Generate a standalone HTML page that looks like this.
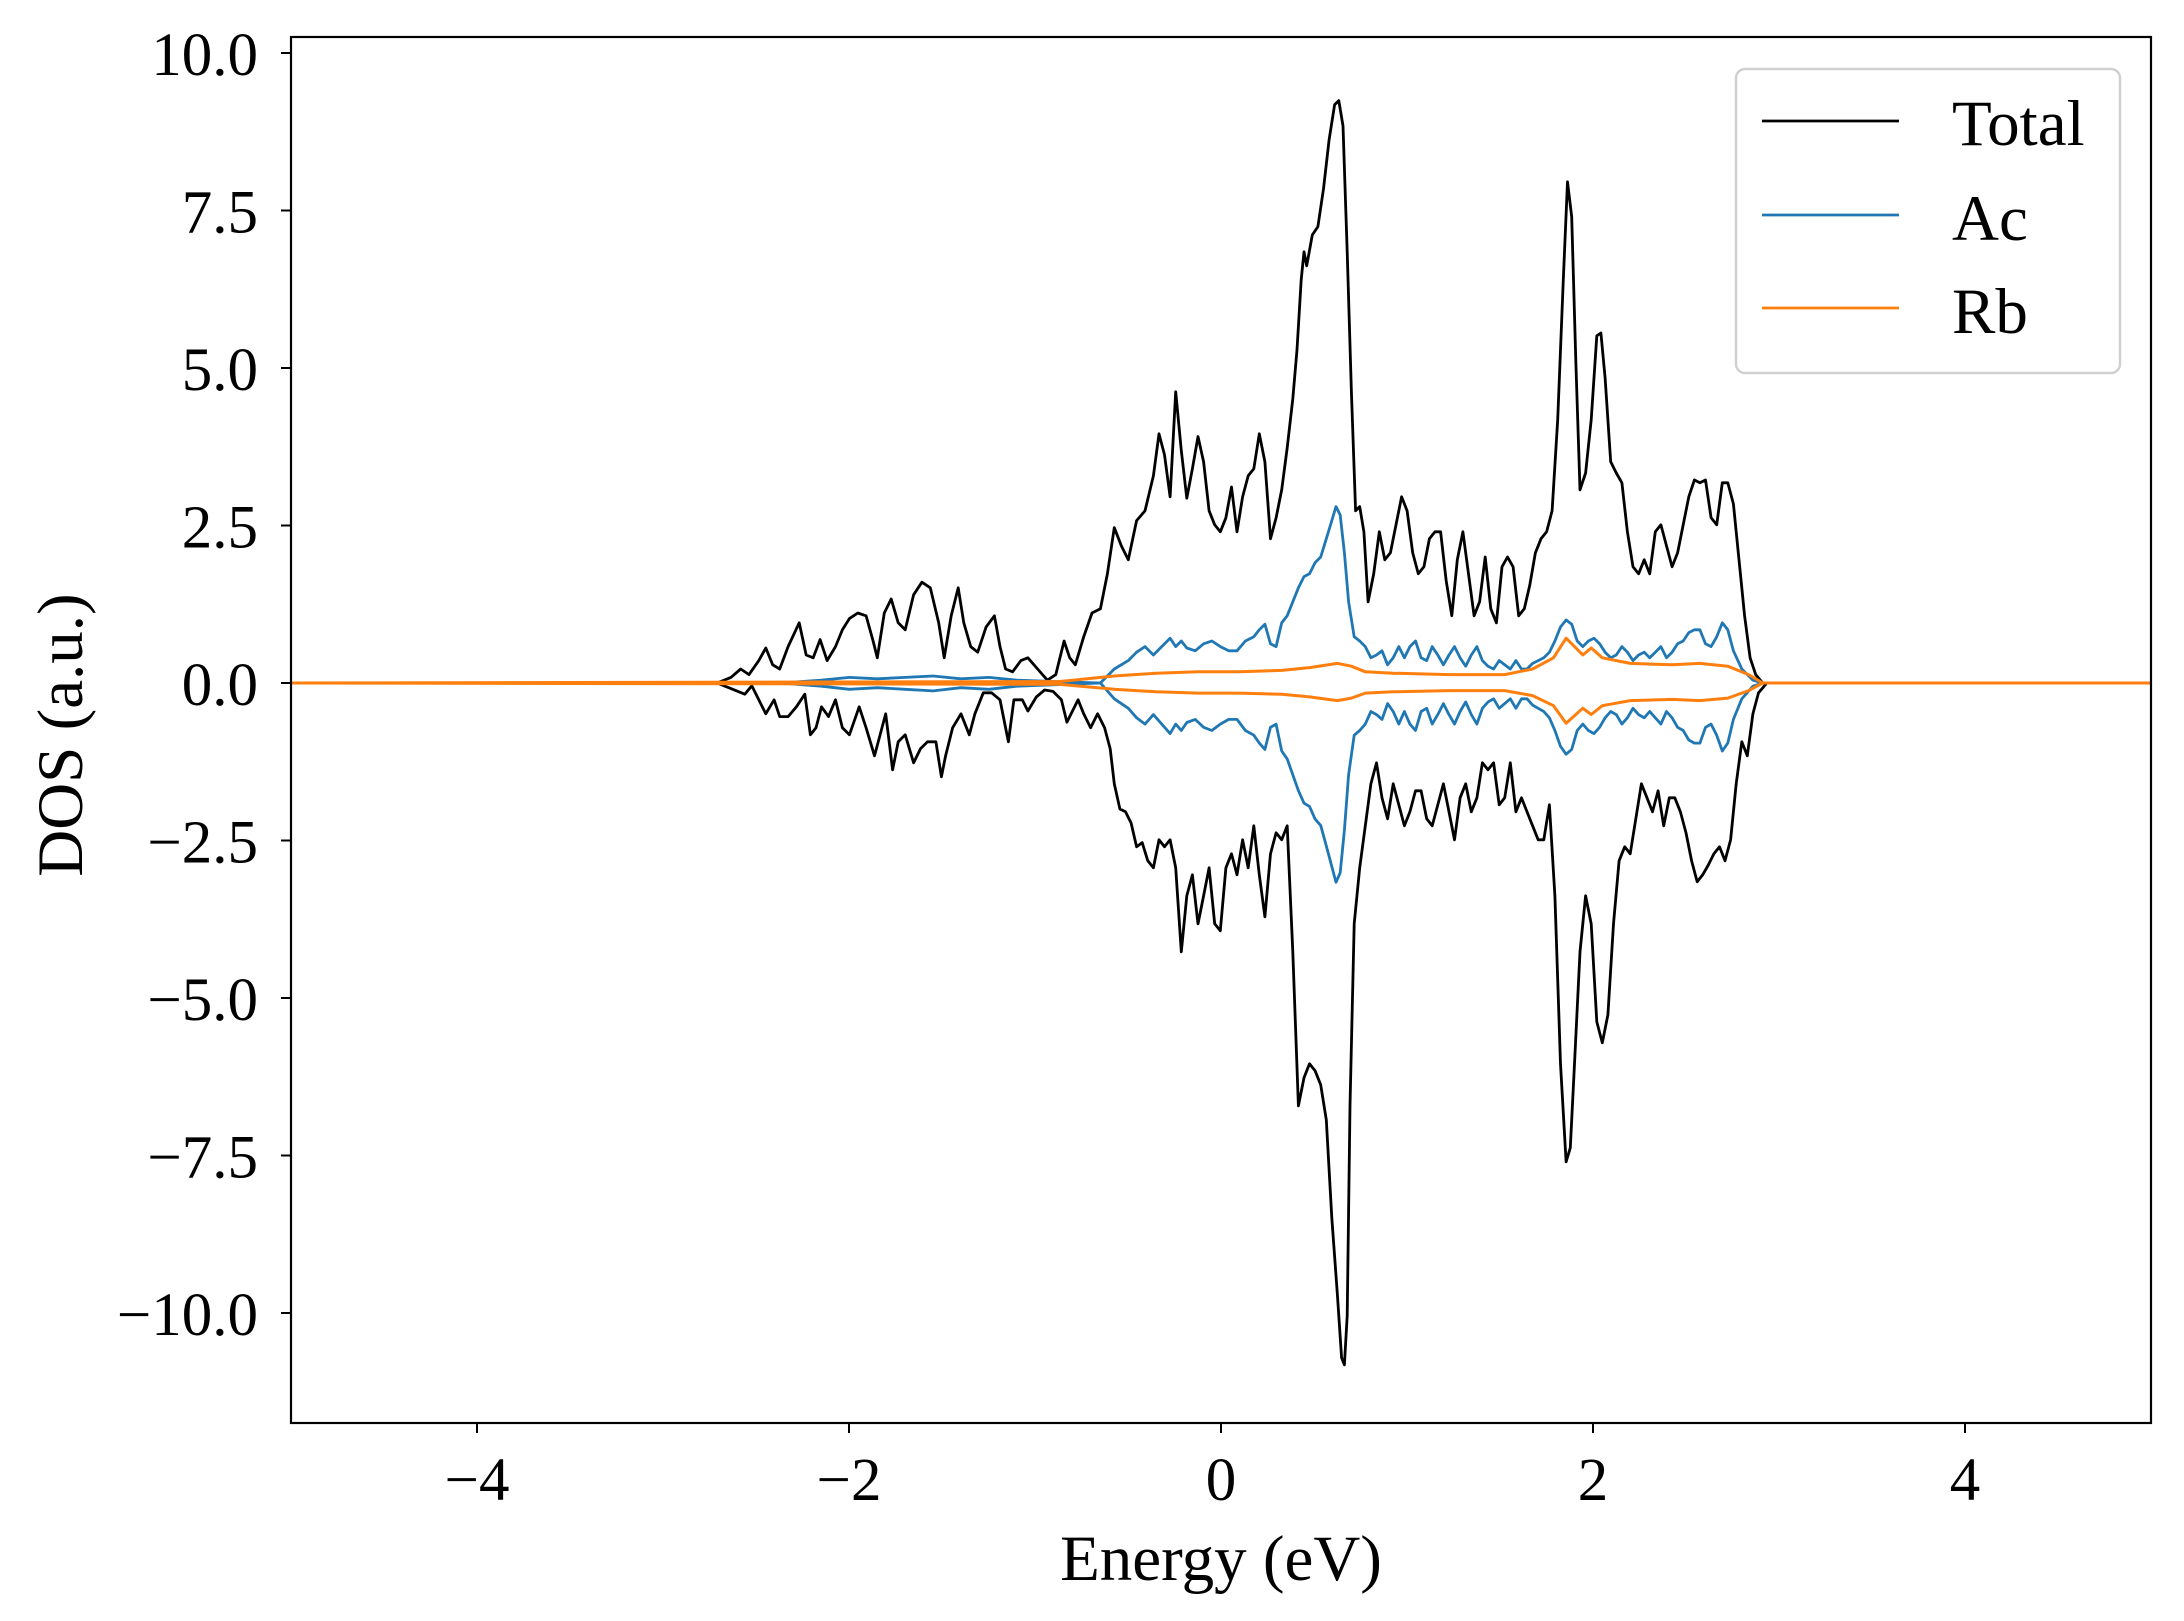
<!DOCTYPE html>
<html><head><meta charset="utf-8"><style>
html,body{margin:0;padding:0;background:#fff;}
svg{display:block;font-family:"Liberation Serif",serif;}
</style></head><body>
<svg id="s" width="2184" height="1621" viewBox="0 0 2184 1621" xmlns="http://www.w3.org/2000/svg">
<rect width="2184" height="1621" fill="#fff"/>
<g id="curves"></g>
<rect x="291" y="37" width="1860" height="1386" fill="none" stroke="#000" stroke-width="2.2"/>
<g id="ticks" stroke="#000" stroke-width="2"></g>
<g id="labels" font-size="61" fill="#000"></g>
<text x="1221" y="1580" font-size="65" text-anchor="middle">Energy (eV)</text>
<text transform="translate(82,735) rotate(-90)" font-size="65" text-anchor="middle">DOS (a.u.)</text>
<rect x="1736" y="69" width="384" height="304" rx="9" fill="#fff" fill-opacity="0.8" stroke="#d0d0d0" stroke-width="2.5"/>
<line x1="1762" y1="121" x2="1899" y2="121" stroke="#000" stroke-width="2.8"/>
<line x1="1762" y1="215" x2="1899" y2="215" stroke="#1f77b4" stroke-width="2.8"/>
<line x1="1762" y1="308" x2="1899" y2="308" stroke="#ff7f0e" stroke-width="2.8"/>
<text x="1952" y="145" font-size="65">Total</text>
<text x="1952" y="240" font-size="65">Ac</text>
<text x="1952" y="333" font-size="65">Rb</text>
</svg>
<script>
const NS="http://www.w3.org/2000/svg";
function tr(p){return [1221+(p[0]-876.5)*186/133.4, 683+(p[1]-488)*1.4];}
function P(pts){return pts.map(p=>{const q=tr(p);return q[0].toFixed(1)+","+q[1].toFixed(1);}).join(" ");}
function line(pts,col,w){const e=document.createElementNS(NS,"polyline");e.setAttribute("points",P(pts));e.setAttribute("fill","none");e.setAttribute("stroke",col);e.setAttribute("stroke-width",w);e.setAttribute("stroke-linejoin","round");document.getElementById("curves").appendChild(e);}
function wrap(a){return [[209,488]].concat(a).concat([[1544,488]]);}
function mirror(a,k){return a.map(p=>[p[0],488+(488-p[1])*k]);}
const totUp=[[515,488],[525,484],[532,478],[538,482],[545,472],[550,463],[555,475],[560,478],[566,462],[574,445],[579,468],[584,470],[589,457],[594,472],[600,462],[605,450],[610,442],[616,438],[622,440],[627,458],[630,470],[635,438],[640,428],[645,445],[650,450],[656,425],[662,416],[668,420],[674,445],[678,470],[683,440],[688,420],[692,445],[697,462],[702,466],[708,448],[714,440],[718,462],[722,478],[727,480],[733,472],[738,470],[745,478],[752,486],[758,482],[764,458],[768,470],[772,475],[778,455],[784,438],[790,435],[795,410],[800,377],[805,390],[810,400],[816,372],[822,365],[828,340],[832,310],[836,325],[840,355],[844,280],[848,322],[852,356],[856,335],[860,312],[864,330],[868,365],[872,375],[876,380],[880,370],[884,348],[888,380],[892,355],[896,340],[900,335],[904,310],[908,330],[912,385],[916,370],[920,350],[924,320],[928,285],[931,250],[934,200],[936,180],[938,190],[942,168],[946,162],[950,135],[954,100],[958,75],[961,72],[964,90],[967,180],[970,280],[973,365],[976,362],[979,380],[982,430],[986,410],[990,380],[994,400],[998,395],[1002,375],[1006,355],[1010,365],[1014,395],[1018,410],[1022,405],[1026,385],[1030,380],[1034,380],[1038,415],[1042,440],[1046,400],[1050,380],[1054,410],[1058,440],[1062,430],[1066,398],[1070,435],[1074,445],[1078,405],[1082,398],[1086,405],[1090,440],[1094,435],[1098,418],[1102,395],[1106,385],[1110,380],[1114,365],[1118,300],[1122,200],[1125,130],[1128,155],[1131,260],[1134,350],[1138,338],[1142,300],[1146,240],[1149,238],[1152,270],[1156,330],[1160,338],[1164,345],[1168,380],[1172,405],[1176,410],[1180,400],[1184,410],[1188,380],[1192,375],[1196,390],[1200,405],[1204,395],[1208,375],[1212,355],[1216,343],[1220,345],[1224,343],[1228,370],[1232,375],[1236,345],[1240,345],[1244,360],[1248,400],[1252,440],[1256,470],[1260,482],[1265,488]];
const totDn=[[515,488],[525,492],[535,496],[540,490],[545,500],[550,510],[556,500],[560,512],[566,512],[572,505],[578,496],[582,525],[586,520],[590,505],[595,512],[600,500],[605,520],[610,525],[617,505],[622,520],[628,540],[632,525],[636,510],[641,550],[645,530],[650,525],[656,545],[661,535],[666,530],[672,530],[676,555],[679,540],[684,520],[690,510],[696,525],[700,510],[706,495],[712,495],[718,500],[724,530],[728,500],[734,500],[738,508],[744,498],[750,493],[756,494],[762,500],[766,516],[770,508],[774,500],[778,510],[783,520],[788,510],[793,520],[797,535],[800,560],[804,578],[808,580],[812,588],[816,605],[820,602],[824,615],[828,620],[832,600],[836,605],[840,600],[844,620],[848,680],[852,640],[856,625],[860,660],[864,640],[868,620],[872,660],[876,665],[880,620],[884,610],[888,625],[892,600],[896,620],[900,590],[904,625],[908,655],[912,610],[916,595],[920,600],[924,590],[928,680],[932,790],[936,770],[940,760],[944,765],[948,775],[952,800],[956,870],[960,925],[963,970],[965,975],[967,940],[969,790],[972,660],[976,620],[980,590],[984,560],[988,545],[992,570],[996,585],[1000,560],[1004,575],[1008,590],[1012,580],[1016,565],[1020,565],[1024,585],[1028,590],[1032,575],[1036,560],[1040,580],[1044,600],[1048,570],[1052,560],[1056,580],[1060,570],[1064,545],[1068,550],[1072,545],[1076,575],[1080,570],[1084,545],[1088,580],[1092,570],[1096,580],[1100,590],[1104,600],[1108,600],[1112,575],[1116,640],[1120,760],[1124,830],[1127,820],[1130,760],[1134,680],[1138,640],[1142,660],[1146,730],[1150,745],[1154,725],[1158,660],[1162,615],[1166,605],[1170,610],[1174,585],[1178,560],[1182,570],[1186,580],[1190,565],[1194,590],[1198,570],[1202,570],[1206,580],[1210,595],[1214,615],[1218,630],[1222,625],[1226,618],[1230,610],[1234,605],[1238,615],[1242,600],[1246,560],[1250,530],[1254,540],[1258,510],[1262,495],[1268,488]];
const acUp=[[560,488],[590,486],[610,484],[630,485],[650,484],[670,483],[690,485],[710,484],[730,486],[760,487],[790,488],[800,478],[810,472],[816,466],[822,462],[828,468],[834,462],[840,456],[844,462],[848,458],[852,463],[858,465],[864,460],[870,458],[876,462],[882,465],[888,465],[894,458],[900,455],[904,450],[908,446],[912,460],[916,462],[920,445],[924,440],[928,430],[932,420],[936,412],[940,410],[944,402],[948,398],[952,385],[956,372],[959,362],[962,368],[965,395],[968,430],[972,455],[976,458],[980,462],[984,470],[988,468],[992,465],[996,475],[1000,470],[1004,462],[1008,470],[1012,462],[1016,458],[1020,470],[1024,472],[1028,462],[1032,468],[1036,475],[1040,468],[1044,462],[1048,470],[1052,476],[1056,468],[1060,462],[1064,472],[1068,476],[1072,478],[1076,472],[1080,475],[1084,478],[1088,472],[1092,478],[1096,478],[1100,474],[1104,472],[1108,470],[1112,466],[1116,458],[1120,448],[1124,443],[1128,446],[1132,458],[1136,462],[1140,458],[1144,456],[1148,460],[1152,466],[1156,470],[1160,468],[1164,462],[1168,466],[1172,472],[1176,468],[1180,466],[1184,470],[1188,466],[1192,462],[1196,470],[1200,466],[1204,460],[1208,458],[1212,452],[1216,450],[1220,450],[1224,460],[1228,462],[1232,455],[1236,445],[1240,450],[1244,465],[1250,478],[1258,486],[1265,488]];
const rbUp=[[760,487],[770,486],[800,483],[830,481],[860,480],[890,480],[920,479],[940,477],[960,474],[970,476],[980,480],[1000,481],[1040,482],[1080,482],[1100,478],[1115,470],[1124,456],[1130,462],[1136,468],[1142,463],[1150,470],[1170,474],[1200,475],[1220,474],[1240,476],[1255,482],[1265,488]];
line(wrap(totUp),"#000",2.8);line(wrap(totDn),"#000",2.8);
line(wrap(acUp),"#1f77b4",2.8);line(wrap(mirror(acUp,1.13)),"#1f77b4",2.8);
line(wrap(rbUp),"#ff7f0e",3);line(wrap(mirror(rbUp,0.9)),"#ff7f0e",3);
const T=document.getElementById("ticks"),L=document.getElementById("labels");
function el(g,tag,a,txt){const e=document.createElementNS(NS,tag);for(const k in a)e.setAttribute(k,a[k]);if(txt)e.textContent=txt;g.appendChild(e);}
[10,7.5,5,2.5,0,-2.5,-5,-7.5,-10].forEach(v=>{const y=683-v*63;el(T,"line",{x1:281,y1:y,x2:291,y2:y});el(L,"text",{x:258,y:y+22,"text-anchor":"end"},(v<0?"\u2212":"")+Math.abs(v).toFixed(1));});
[-4,-2,0,2,4].forEach(v=>{const x=1221+v*186;el(T,"line",{x1:x,y1:1423,x2:x,y2:1433});el(L,"text",{x:x,y:1500,"text-anchor":"middle"},(v<0?"\u2212":"")+Math.abs(v));});
</script>
</body></html>
